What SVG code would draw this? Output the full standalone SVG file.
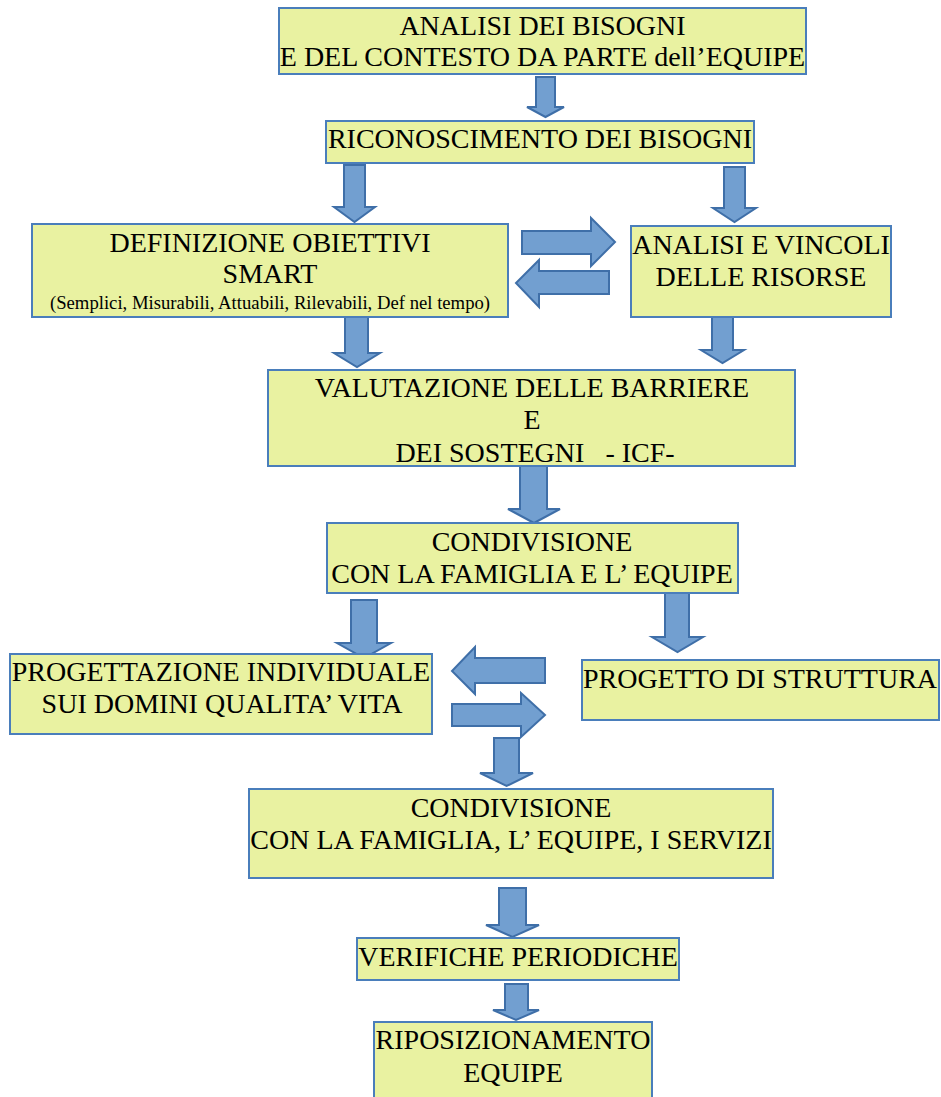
<svg xmlns="http://www.w3.org/2000/svg" width="941" height="1097" viewBox="0 0 941 1097">
<style>
.box{fill:#e9f2a1;stroke:#4a7ebb;stroke-width:2}
.arr{fill:#729fd0;stroke:#3f6fa8;stroke-width:2;stroke-linejoin:miter}
text{font-family:"Liberation Serif","Times New Roman",serif;font-size:28px;fill:#000;text-anchor:middle}
.sm{font-size:18.7px}
</style>
<rect width="941" height="1097" fill="#ffffff"/>
<g id="connectors">
<polygon class="arr" points="536,77 555,77 555,107 564,107 545.5,117 527,107 536,107"/>
<polygon class="arr" points="344,165 365,165 365,207 375,207 354.5,222 334,207 344,207"/>
<polygon class="arr" points="724,167 745,167 745,208 756,208 734.5,222 713,208 724,208"/>
<polygon class="arr" points="522,231 591,231 591,218 615,242 591,266 591,254 522,254"/>
<polygon class="arr" points="609,271 539,271 539,260 516,283 539,307 539,294 609,294"/>
<polygon class="arr" points="345,313 368,313 368,353 380,353 357,367 334,353 345,353"/>
<polygon class="arr" points="712,314 733,314 733,350 744,350 722.5,363 701,350 712,350"/>
<polygon class="arr" points="520,466 547,466 547,509 560,509 534,523 508,509 520,509"/>
<polygon class="arr" points="351,600 377,600 377,643 391,643 364,658 337,643 351,643"/>
<polygon class="arr" points="665,593 689,593 689,637 703,637 677.5,652 652,637 665,637"/>
<polygon class="arr" points="545,658 475,658 475,647 452,671 475,694 475,683 545,683"/>
<polygon class="arr" points="452,704 521,704 521,693 545,715 521,737 521,726 452,726"/>
<polygon class="arr" points="494,738 519,738 519,773 533,773 506.5,786 480,773 494,773"/>
<polygon class="arr" points="499,888 526,888 526,925 539,925 512.5,937 486,925 499,925"/>
<polygon class="arr" points="505,984 528,984 528,1010 539,1010 516,1020 493,1010 505,1010"/>
</g>
<g id="n1">
<rect class="box" x="279" y="8" width="527" height="66"/>
<text x="542.5" y="35">ANALISI DEI BISOGNI</text>
<text x="542.5" y="66">E DEL CONTESTO DA PARTE dell’EQUIPE</text>
</g>
<g id="n2">
<rect class="box" x="326" y="121" width="428" height="42"/>
<text x="540" y="148">RICONOSCIMENTO DEI BISOGNI</text>
</g>
<g id="n3">
<rect class="box" x="32" y="224" width="476" height="93"/>
<text x="270" y="252">DEFINIZIONE OBIETTIVI</text>
<text x="270" y="283">SMART</text>
<text class="sm" x="270" y="309">(Semplici, Misurabili, Attuabili, Rilevabili, Def nel tempo)</text>
</g>
<g id="n4">
<rect class="box" x="631" y="226" width="260" height="91"/>
<text x="761" y="254">ANALISI E VINCOLI</text>
<text x="761" y="286">DELLE RISORSE</text>
</g>
<g id="n5">
<rect class="box" x="268" y="370" width="527" height="96"/>
<text x="532" y="397">VALUTAZIONE DELLE BARRIERE</text>
<text x="532" y="429">E</text>
<text x="535" y="462" xml:space="preserve">DEI SOSTEGNI   - ICF-</text>
</g>
<g id="n6">
<rect class="box" x="327" y="523" width="411" height="70"/>
<text x="532" y="551">CONDIVISIONE</text>
<text x="532" y="583">CON LA FAMIGLIA E L’ EQUIPE</text>
</g>
<g id="n7">
<rect class="box" x="10" y="654" width="422" height="80"/>
<text x="221" y="681">PROGETTAZIONE INDIVIDUALE</text>
<text x="222" y="713">SUI DOMINI QUALITA’ VITA</text>
</g>
<g id="n8">
<rect class="box" x="582" y="660" width="357" height="60"/>
<text x="760" y="688">PROGETTO DI STRUTTURA</text>
</g>
<g id="n9">
<rect class="box" x="249" y="789" width="524" height="89"/>
<text x="511" y="817">CONDIVISIONE</text>
<text x="511" y="849">CON LA FAMIGLIA, L’ EQUIPE, I SERVIZI</text>
</g>
<g id="n10">
<rect class="box" x="357" y="938" width="322" height="42"/>
<text x="518" y="966">VERIFICHE PERIODICHE</text>
</g>
<g id="n11">
<rect class="box" x="374" y="1022" width="278" height="80"/>
<text x="513" y="1049">RIPOSIZIONAMENTO</text>
<text x="513" y="1082">EQUIPE</text>
</g>
</svg>
